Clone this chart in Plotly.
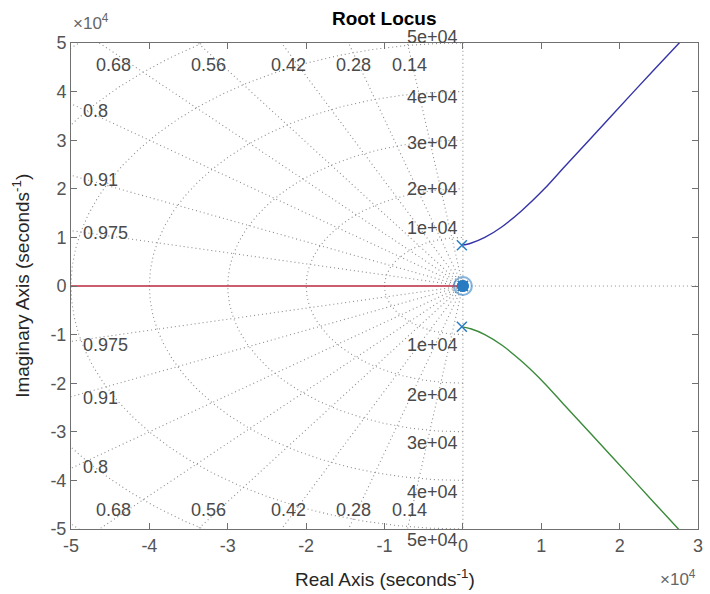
import numpy as np
import plotly.graph_objects as go

# ---------------- data ----------------
SCALE = 1e4
x_tick_vals = [-5, -4, -3, -2, -1, 0, 1, 2, 3]
y_tick_vals = [-5, -4, -3, -2, -1, 0, 1, 2, 3, 4, 5]
x_range = [-5, 3]
y_range = [-5, 5]

zeta_vals = [0.14, 0.28, 0.42, 0.56, 0.68, 0.8, 0.91, 0.975]
zeta_top = [0.14, 0.28, 0.42, 0.56, 0.68]
zeta_left = [0.8, 0.91, 0.975]
wn_vals = [1, 2, 3, 4, 5, 6, 7]          # x1e4, circles drawn
wn_labels = [1, 2, 3, 4, 5]              # labelled circles
wn_label_text = ["1e+04", "2e+04", "3e+04", "4e+04", "5e+04"]

# root locus branches (x1e4)
blue_re = [-0.013, 0.10, 0.28, 0.50, 0.75, 1.04, 1.30, 1.61, 2.18, 2.76, 2.88]
blue_im = [0.84, 0.88, 1.00, 1.22, 1.55, 2.00, 2.46, 3.00, 4.00, 5.00, 5.20]
green_re = [-0.013, 0.10, 0.28, 0.50, 0.75, 1.04, 1.30, 1.61, 2.18, 2.75, 2.87]
green_im = [-0.84, -0.88, -1.00, -1.22, -1.55, -2.00, -2.46, -3.00, -4.00, -5.00, -5.20]
red_re = [-0.03, -6.0]
red_im = [0.0, 0.0]

pole_re = [-0.013, -0.013, 0.0, 0.0]
pole_im = [0.84, -0.84, 0.0, 0.0]
zero_re = [0.0, 0.0]
zero_im = [0.0, 0.0]

# ---------------- figure ----------------
GRID = "#8c8c8c"
LBL = "#4a4a4a"
FONT = "Liberation Sans, Arial, sans-serif"
s = lambda v: [a * SCALE for a in v]

fig = go.Figure()

grid_line = dict(color=GRID, width=1.1, dash="1px,3px")
R = 12 * SCALE
# damping rays
for z in zeta_vals + [0.0]:
    th = np.arccos(z)
    fig.add_trace(go.Scatter(x=[-R * np.cos(th), 0, -R * np.cos(th)],
                             y=[R * np.sin(th), 0, -R * np.sin(th)],
                             mode="lines", line=grid_line, hoverinfo="skip", showlegend=False))
# natural-frequency circles
phi = np.linspace(-np.pi / 2, np.pi / 2, 361)
for w in wn_vals:
    fig.add_trace(go.Scatter(x=-w * SCALE * np.cos(phi), y=w * SCALE * np.sin(phi),
                             mode="lines", line=grid_line, hoverinfo="skip", showlegend=False))
# positive real axis dotted
fig.add_trace(go.Scatter(x=[0, x_range[1] * SCALE * 1.1], y=[0, 0], mode="lines",
                         line=grid_line, hoverinfo="skip", showlegend=False))

# branches
fig.add_trace(go.Scatter(x=s(red_re), y=s(red_im), mode="lines",
                         line=dict(color="#b8283f", width=1.4), showlegend=False))
fig.add_trace(go.Scatter(x=s(blue_re), y=s(blue_im), mode="lines", line_shape="spline",
                         line=dict(color="#3434a8", width=1.4, smoothing=0.8), showlegend=False))
fig.add_trace(go.Scatter(x=s(green_re), y=s(green_im), mode="lines", line_shape="spline",
                         line=dict(color="#3a8a3a", width=1.4, smoothing=0.8), showlegend=False))

# zeros / poles
MK = "#2a7cc2"
fig.add_trace(go.Scatter(x=s(zero_re), y=s(zero_im), mode="markers",
                         marker=dict(symbol="circle-open", size=18, color="rgba(42,124,194,0.35)",
                                     line=dict(width=2)), showlegend=False))
fig.add_trace(go.Scatter(x=s(zero_re), y=s(zero_im), mode="markers",
                         marker=dict(symbol="circle", size=12, color=MK), showlegend=False))
fig.add_trace(go.Scatter(x=s(pole_re), y=s(pole_im), mode="markers",
                         marker=dict(symbol="x-thin", size=10, line=dict(color=MK, width=1.5)),
                         showlegend=False))

ann = []
lbl_font = dict(family=FONT, size=18, color=LBL)
ymax = y_range[1] * SCALE
# damping labels top/bottom
for z in zeta_top:
    th = np.arccos(z)
    xt = -0.96 * ymax / np.tan(th)
    ann.append(dict(x=xt, y=0.957 * ymax, text=str(z), showarrow=False, xanchor="center",
                    yanchor="top", font=lbl_font))
    ann.append(dict(x=xt, y=-0.97 * ymax, text=str(z), showarrow=False, xanchor="center",
                    yanchor="bottom", font=lbl_font))
# damping labels left
xl = x_range[0] * SCALE
for z in zeta_left:
    th = np.arccos(z)
    yv = 0.96 * abs(xl) * np.tan(th)
    ann.append(dict(x=0.975 * xl, y=yv, text=str(z), showarrow=False, xanchor="left",
                    yanchor="middle", font=lbl_font))
    ann.append(dict(x=0.975 * xl, y=-yv, text=str(z), showarrow=False, xanchor="left",
                    yanchor="middle", yshift=-6, font=lbl_font))
# wn labels
top_shift = [9, 0, -3, -5, 6]
bot_shift = [-10, -12, -11, -12, -11]
for w, t, ts, bs in zip(wn_labels, wn_label_text, top_shift, bot_shift):
    ann.append(dict(x=0, y=w * SCALE, text=t, showarrow=False, xanchor="right", xshift=-3,
                    yanchor="middle", yshift=ts, font=lbl_font))
    ann.append(dict(x=0, y=-w * SCALE, text=t, showarrow=False, xanchor="right", xshift=-3,
                    yanchor="middle", yshift=bs, font=lbl_font))

# title, axis titles, exponents
ann.append(dict(xref="paper", yref="paper", x=0.5, y=1.051, text="<b>Root Locus</b>",
                showarrow=False, xanchor="center", yanchor="middle",
                font=dict(family=FONT, size=19, color="#000000")))
ann.append(dict(xref="paper", yref="paper", x=0.5, y=-0.1, text="Real Axis (seconds<sup>-1</sup>)",
                showarrow=False, xanchor="center", yanchor="middle",
                font=dict(family=FONT, size=19, color="#262626")))
ann.append(dict(xref="paper", yref="paper", x=-0.08, y=0.5, text="Imaginary Axis (seconds<sup>-1</sup>)",
                showarrow=False, xanchor="center", yanchor="middle", textangle=-90,
                font=dict(family=FONT, size=19, color="#262626")))
ann.append(dict(xref="paper", yref="paper", x=0.0, y=1.0, text="×10<sup>4</sup>",
                showarrow=False, xanchor="left", yanchor="bottom", yshift=8,
                font=dict(family=FONT, size=17, color="#666666")))
ann.append(dict(xref="paper", yref="paper", x=1.0, y=-0.1, text="×10<sup>4</sup>",
                showarrow=False, xanchor="right", yanchor="middle",
                font=dict(family=FONT, size=17, color="#666666")))

axis_common = dict(showgrid=False, zeroline=False, showline=True, linecolor="#707070",
                   linewidth=1, mirror="ticks", ticks="inside", ticklen=6,
                   tickcolor="#707070", tickfont=dict(family=FONT, size=18, color="#555555"))

fig.update_layout(
    width=710, height=594,
    margin=dict(l=71, r=7, t=43, b=65),
    paper_bgcolor="white", plot_bgcolor="white",
    xaxis=dict(range=s(x_range), tickvals=s(x_tick_vals),
               ticktext=[str(v) for v in x_tick_vals], **axis_common),
    yaxis=dict(range=s(y_range), tickvals=s(y_tick_vals),
               ticktext=[str(v) for v in y_tick_vals], **axis_common),
    annotations=ann,
    showlegend=False,
)

fig.write_html("out.html")
